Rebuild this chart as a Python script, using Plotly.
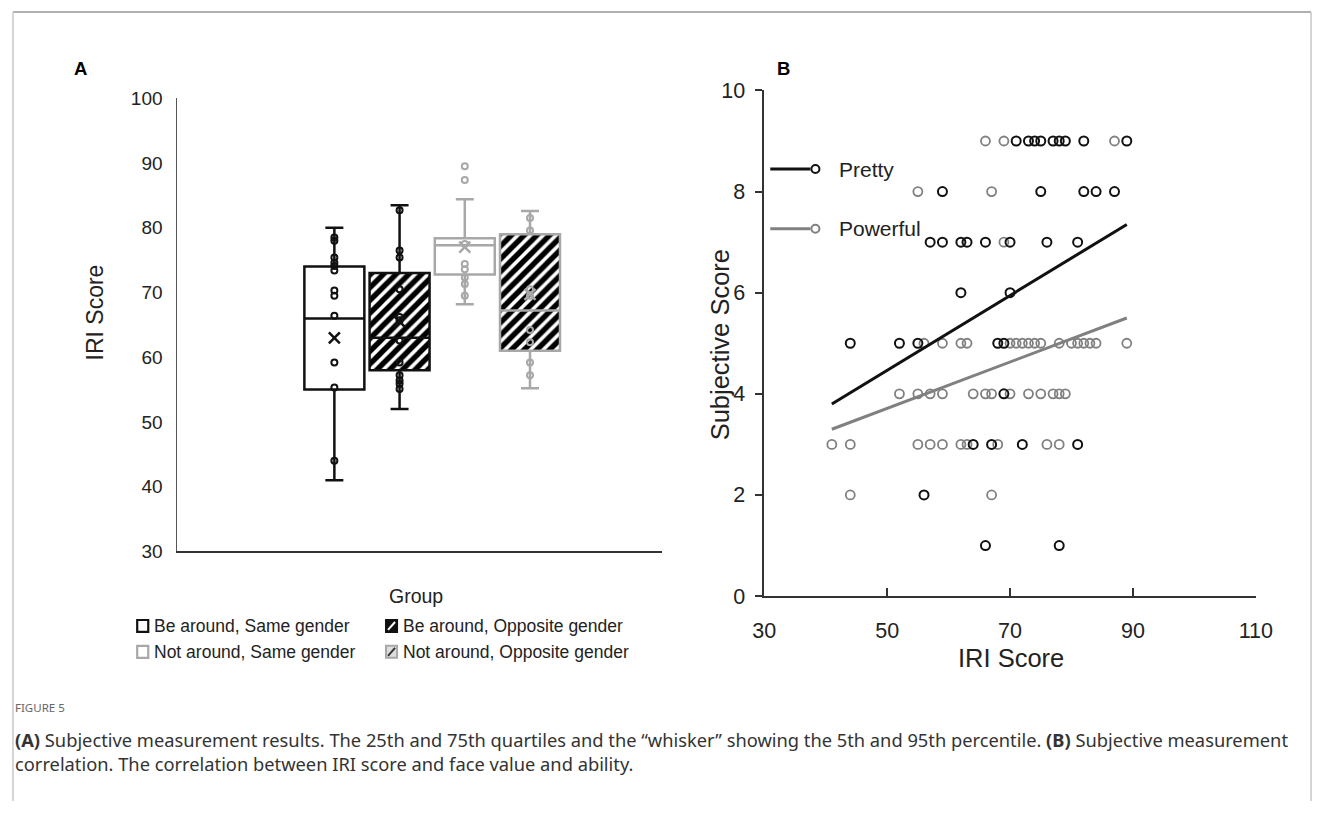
import plotly.graph_objects as go

W, H = 1329, 814

# ---------------- Panel A data ----------------
groups = ["Be around, Same gender", "Be around, Opposite gender",
          "Not around, Same gender", "Not around, Opposite gender"]
group_pos = [1, 2, 3, 4]
q1 = [55, 58, 72.8, 61]
median = [66, 63, 77.3, 67.2]
q3 = [74, 73, 78.4, 79]
whisk_lo = [41, 52, 68.2, 55.2]
whisk_hi = [80, 83.5, 84.4, 82.6]
means = [63, 65.5, 77, 69.7]
hatched = [False, True, False, True]
group_colors = ["#111111", "#111111", "#a8a8a8", "#a8a8a8"]
pts_g1 = [78.5, 78, 75.4, 74.6, 74.1, 73.4, 70.3, 69.5, 66.4, 59.2, 55.3, 44]
pts_g2 = [82.7, 76.5, 75.4, 70.5, 66.2, 65.7, 62.6, 59.2, 57.2, 56.4, 55.9, 55.1]
pts_g3 = [89.5, 87.4, 77.5, 74.4, 73.6, 72.3, 71.3, 69.5]
pts_g4 = [81.5, 79.6, 70.5, 69.5, 64.2, 62.3, 59.2, 57.2]
group_points = [pts_g1, pts_g2, pts_g3, pts_g4]
a_yticks = [30, 40, 50, 60, 70, 80, 90, 100]

# ---------------- Panel B data ----------------
pretty_x = [71, 73, 74, 75, 77, 78, 79, 82, 89,
            59, 75, 82, 84, 87,
            57, 59, 62, 63, 66, 70, 76, 81,
            62, 70,
            44, 52, 55, 68, 69,
            69,
            64, 67, 72, 81,
            56,
            66, 78]
pretty_y = [9, 9, 9, 9, 9, 9, 9, 9, 9,
            8, 8, 8, 8, 8,
            7, 7, 7, 7, 7, 7, 7, 7,
            6, 6,
            5, 5, 5, 5, 5,
            4,
            3, 3, 3, 3,
            2,
            1, 1]
powerful_x = [66, 69, 87,
              55, 67,
              69,
              56, 59, 62, 63, 70, 71, 72, 73, 74, 75, 78, 80, 81, 82, 83, 84, 89,
              52, 55, 57, 59, 64, 66, 67, 70, 73, 75, 77, 78, 79,
              41, 44, 55, 57, 59, 62, 63, 68, 76, 78,
              44, 67]
powerful_y = [9, 9, 9,
              8, 8,
              7,
              5, 5, 5, 5, 5, 5, 5, 5, 5, 5, 5, 5, 5, 5, 5, 5, 5,
              4, 4, 4, 4, 4, 4, 4, 4, 4, 4, 4, 4, 4,
              3, 3, 3, 3, 3, 3, 3, 3, 3, 3,
              2, 2]
fit_x = [41, 89]
pretty_fit = [3.8, 7.35]
powerful_fit = [3.3, 5.5]
b_xticks = [30, 50, 70, 90, 110]
b_yticks = [0, 2, 4, 6, 8, 10]

BLACK = "#111111"
GREY = "#808080"
SANS = "Liberation Sans, Arial, sans-serif"
CAP = "Noto Sans, Open Sans, sans-serif"

# the photographed page shows the figure slightly inset and scaled; place
# elements so they land at the reference pixel positions
S, O = 0.975, 12.2


def px(x):
    v = (x - O) / S
    return min(max(v, 1), W - 1) / W


def py(y):
    v = (y - O) / S
    return 1 - min(max(v, 1), H - 1) / H


fig = go.Figure()

# hatched fills (under the boxes)
for i in range(4):
    if hatched[i]:
        fig.add_trace(go.Bar(
            x=[group_pos[i]], y=[q3[i] - q1[i]], base=[q1[i]], width=0.92,
            marker=dict(color="white",
                        pattern=dict(shape="/", fgcolor="#000000", bgcolor="white",
                                     fgopacity=1, size=9, solidity=0.6),
                        line=dict(width=0)),
            xaxis="x", yaxis="y", hoverinfo="skip"))

# boxes
for i in range(4):
    fig.add_trace(go.Box(
        x=[group_pos[i]], q1=[q1[i]], median=[median[i]], q3=[q3[i]],
        lowerfence=[whisk_lo[i]], upperfence=[whisk_hi[i]],
        width=0.92, whiskerwidth=0.3, boxpoints=False,
        line=dict(color=group_colors[i], width=2.5),
        fillcolor="rgba(0,0,0,0)", xaxis="x", yaxis="y", name=groups[i]))

# points and means
for i in range(4):
    pts = group_points[i]
    fig.add_trace(go.Scatter(
        x=[group_pos[i]] * len(pts), y=pts, mode="markers",
        marker=dict(symbol="circle-open", size=6, color=group_colors[i],
                    line=dict(width=2, color=group_colors[i])),
        xaxis="x", yaxis="y"))
    fig.add_trace(go.Scatter(
        x=[group_pos[i]], y=[means[i]], mode="markers",
        marker=dict(symbol="x-thin-open", size=11, color=group_colors[i],
                    line=dict(width=2.5, color=group_colors[i])),
        xaxis="x", yaxis="y"))

# Panel B
fig.add_trace(go.Scatter(
    x=powerful_x, y=powerful_y, mode="markers",
    marker=dict(symbol="circle-open", size=9, color=GREY, line=dict(width=1.8, color=GREY)),
    xaxis="x2", yaxis="y2"))
fig.add_trace(go.Scatter(
    x=pretty_x, y=pretty_y, mode="markers",
    marker=dict(symbol="circle-open", size=9, color=BLACK, line=dict(width=2, color=BLACK)),
    xaxis="x2", yaxis="y2"))
fig.add_trace(go.Scatter(x=fit_x, y=pretty_fit, mode="lines",
                         line=dict(color=BLACK, width=3), xaxis="x2", yaxis="y2"))
fig.add_trace(go.Scatter(x=fit_x, y=powerful_fit, mode="lines",
                         line=dict(color=GREY, width=3), xaxis="x2", yaxis="y2"))

annotations = [
    dict(text="<b>A</b>", x=px(80), y=py(70), font=dict(family=SANS, size=18.5, color="black")),
    dict(text="<b>B</b>", x=px(781), y=py(70), font=dict(family=SANS, size=18.5, color="black")),
    dict(text="IRI Score", x=px(95), y=py(315), textangle=-90,
         font=dict(family=SANS, size=23, color="#222")),
    dict(text="Group", x=px(415), y=py(600), font=dict(family=SANS, size=19.5, color="#222")),
    dict(text="Subjective Score", x=px(718), y=py(348), textangle=-90,
         font=dict(family=SANS, size=25.5, color="#222")),
    dict(text="IRI Score", x=px(1008), y=py(662), font=dict(family=SANS, size=25.5, color="#222")),
    dict(text="Pretty", x=px(835), y=py(171), xanchor="left",
         font=dict(family=SANS, size=21, color="#222")),
    dict(text="Powerful", x=px(835), y=py(231), xanchor="left",
         font=dict(family=SANS, size=21, color="#222")),
    dict(text="FIGURE 5", x=px(10), y=py(712), xanchor="left",
         font=dict(family=CAP, size=11.5, color="#666")),
    dict(text="<b>(A)</b> Subjective measurement results. The 25th and 75th quartiles and the \u201cwhisker\u201d showing the 5th and 95th percentile. <b>(B)</b> Subjective measurement"
              "<br>correlation. The correlation between IRI score and face value and ability.",
         x=px(10), y=py(729), xanchor="left", yanchor="top", align="left",
         font=dict(family=CAP, size=18.3, color="#333")),
]

# Panel A legend
leg_pos = [(137, 630), (385, 630), (137, 656), (385, 656)]
shapes = []
for i in range(4):
    lx, ly = leg_pos[i]
    annotations.append(dict(text=groups[i], x=px(lx + 15), y=py(ly), xanchor="left",
                            font=dict(family=SANS, size=17.5, color="#222")))
    col = group_colors[i]
    if hatched[i]:
        fill = "#111111" if i == 1 else "#dddddd"
        shapes.append(dict(type="rect", xref="paper", yref="paper",
                           x0=px(lx), x1=px(lx + 11), y0=py(ly + 6), y1=py(ly - 6),
                           fillcolor=fill, line=dict(color=col, width=2)))
        shapes.append(dict(type="line", xref="paper", yref="paper",
                           x0=px(lx + 2), x1=px(lx + 9), y0=py(ly + 4), y1=py(ly - 4),
                           line=dict(color="white" if i == 1 else "#333", width=2)))
    else:
        shapes.append(dict(type="rect", xref="paper", yref="paper",
                           x0=px(lx), x1=px(lx + 11), y0=py(ly + 6), y1=py(ly - 6),
                           fillcolor="white", line=dict(color=col, width=2.2)))

# Panel B legend
for (ly, col) in [(171, BLACK), (231, GREY)]:
    shapes.append(dict(type="line", xref="paper", yref="paper",
                       x0=px(768), x1=px(808), y0=py(ly), y1=py(ly),
                       line=dict(color=col, width=3)))
    shapes.append(dict(type="circle", xref="paper", yref="paper",
                       x0=px(809), x1=px(817), y0=py(ly + 4), y1=py(ly - 4),
                       line=dict(color=col, width=2), fillcolor="white"))

# frame
shapes.append(dict(type="line", xref="paper", yref="paper", x0=px(3), x1=px(1329), y0=py(8), y1=py(8),
                   line=dict(color="#b0b0b0", width=2)))
shapes.append(dict(type="line", xref="paper", yref="paper", x0=px(3), x1=px(3), y0=py(8), y1=0,
                   line=dict(color="#c8c8c8", width=1.5)))
shapes.append(dict(type="line", xref="paper", yref="paper", x0=px(1326), x1=px(1326), y0=py(8), y1=0,
                   line=dict(color="#c8c8c8", width=1.5)))

for a in annotations:
    a.setdefault("xref", "paper")
    a.setdefault("yref", "paper")
    a.setdefault("showarrow", False)
    a.setdefault("xanchor", "center")
    a.setdefault("yanchor", "middle")

fig.update_layout(
    width=W, height=H, margin=dict(l=0, r=0, t=0, b=0),
    paper_bgcolor="white", plot_bgcolor="white", showlegend=False,
    boxmode="overlay", barmode="overlay",
    xaxis=dict(domain=[px(177), px(660)], range=[-1.408, 6.023], showline=True,
               linecolor="#333", linewidth=1.5, showticklabels=False, showgrid=False,
               zeroline=False, ticks="", anchor="y", fixedrange=True),
    yaxis=dict(domain=[py(555), py(100)], range=[30, 100], showline=True,
               linecolor="#555", linewidth=1, tickvals=a_yticks, ticks="",
               ticklabelstandoff=10, showgrid=False, zeroline=False, anchor="x",
               tickfont=dict(family=SANS, size=19, color="#222")),
    xaxis2=dict(domain=[px(762), px(1252)], range=[30, 110], tickvals=b_xticks,
                ticks="inside", ticklen=8, tickwidth=1.5, tickcolor="#333",
                showline=True, linecolor="#333", linewidth=1.5, showgrid=False,
                zeroline=False, anchor="y2", ticklabelstandoff=14,
                tickfont=dict(family=SANS, size=21.5, color="#222")),
    yaxis2=dict(domain=[py(600), py(92)], range=[0, 10], tickvals=b_yticks,
                ticks="outside", ticklen=7, tickwidth=1.5, tickcolor="#333",
                showline=True, linecolor="#333", linewidth=1.5, showgrid=False,
                zeroline=False, anchor="x2", ticklabelstandoff=6,
                tickfont=dict(family=SANS, size=21.5, color="#222")),
    annotations=annotations, shapes=shapes,
)

fig.write_html("out.html", config={"displayModeBar": False},
               post_script="document.body.style.margin='0';document.body.style.padding='0';"
                           "document.body.style.overflow='hidden';")
